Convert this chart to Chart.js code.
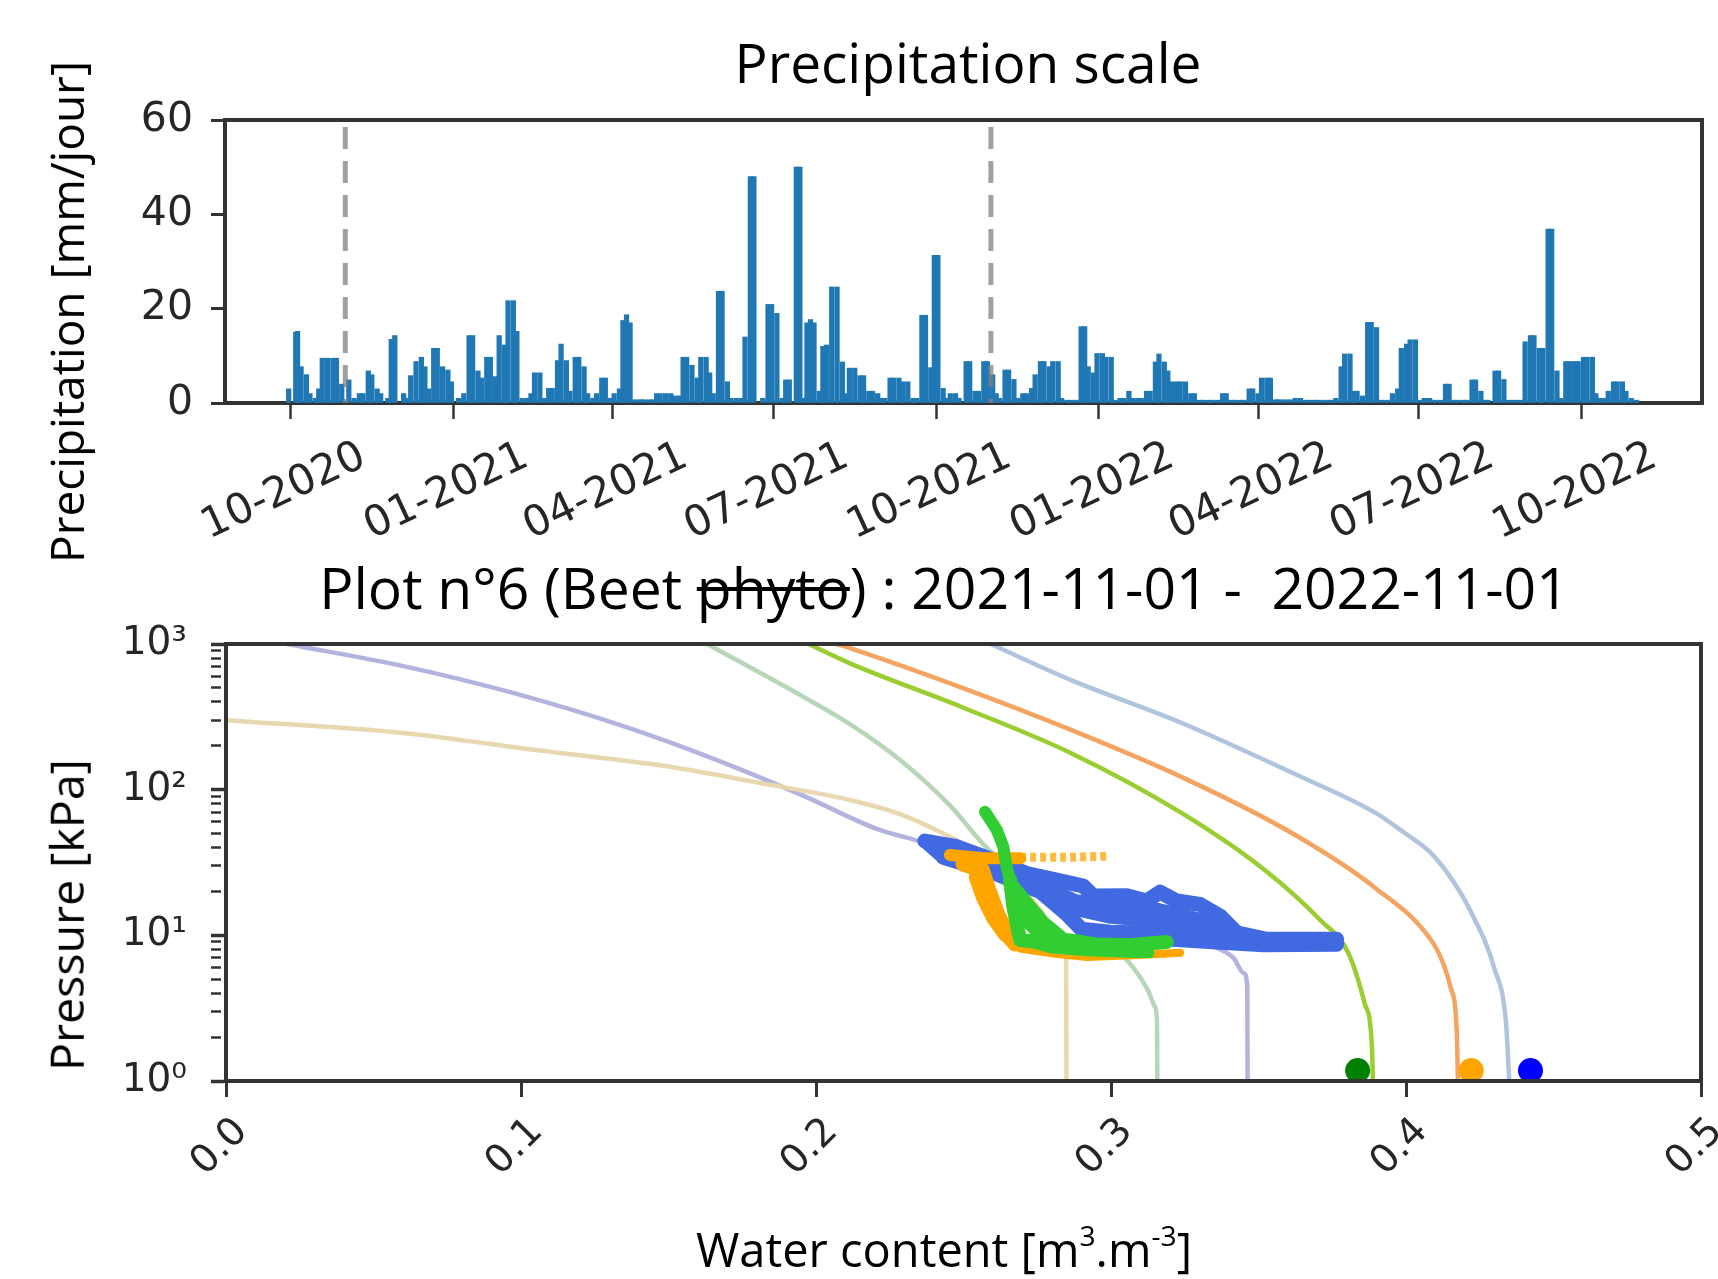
<!DOCTYPE html>
<html>
<head>
<meta charset="utf-8">
<script src="https://cdn.jsdelivr.net/npm/chart.js@4.4.1/dist/chart.umd.min.js"></script>
<style>
  body { margin: 0; background: #fff; }
  #page { position: relative; width: 1718px; height: 1279px; overflow: hidden; background: #fff; }
  canvas { position: absolute; left: 0; }
  .lbl { position: absolute; font-family: 'Open Sans', sans-serif; color: #000; white-space: nowrap; line-height: 1; }
  .ctr { transform: translateX(-50%); }
  .rot { transform: translate(-50%, -50%) rotate(-90deg); }
  .sup { font-size: 0.6em; position: relative; top: -0.75em; }
  s { text-decoration-thickness: 4px; }
</style>
</head>
<body>
<div id="page">
  <canvas id="rain" width="1718" height="590" style="top:0"></canvas>
  <canvas id="retention" width="1718" height="689" style="top:590px"></canvas>
  <div class="lbl ctr" style="left:968px; top:34px; font-size:55px">Precipitation scale</div>
  <div class="lbl rot" style="left:66px; top:312px; font-size:46px">Precipitation [mm/jour]</div>
  <div class="lbl ctr" style="left:944px; top:559px; font-size:57px">Plot n°6 (Beet <s>phyto</s>) : 2021-11-01 -&nbsp; 2022-11-01</div>
  <div class="lbl rot" style="left:66px; top:915px; font-size:46.5px">Pressure [kPa]</div>
  <div class="lbl ctr" style="left:944px; top:1226px; font-size:47px">Water content [m<span class="sup">3</span>.m<span class="sup">-3</span>]</div>
</div>
<script>
// ---- precipitation panel ----
// days are counted from 2020-10-01
const DAY0 = Date.UTC(2020, 9, 1);
const dayOf = s => (Date.parse(s) - DAY0) / 864e5;

const axisStart = '2020-08-25';
const axisEnd = '2022-12-08';
const monthTicks = ['2020-10-01', '2021-01-01', '2021-04-01', '2021-07-01', '2021-10-01',
  '2022-01-01', '2022-04-01', '2022-07-01', '2022-10-01'];
const monthLabels = ['10-2020', '01-2021', '04-2021', '07-2021', '10-2021',
  '01-2022', '04-2022', '07-2022', '10-2022'];
const periodMarks = ['2020-11-01', '2021-11-01'];

const rainDay = [
  -1, 3, 4, 6, 9, 11, 14, 16, 18, 21, 24, 26, 29, 33, 36, 39, 41, 44, 46, 49,
  51, 55, 57, 59, 64, 66, 68, 71, 74, 76, 78, 81, 83, 86, 89, 91, 95, 98, 101, 103,
  106, 108, 111, 113, 116, 118, 121, 123, 126, 128, 131, 134, 136, 138, 141, 143, 146, 148, 151, 153,
  156, 158, 161, 163, 166, 168, 171, 173, 176, 178, 181, 183, 186, 188, 190, 192, 195, 198, 200, 203,
  205, 207, 209, 212, 215, 217, 220, 222, 224, 227, 230, 232, 235, 237, 239, 242, 244, 247, 249, 252,
  255, 257, 260, 262, 267, 270, 272, 275, 278, 280, 282, 286, 288, 290, 292, 294, 296, 299, 301, 303,
  306, 309, 312, 314, 316, 319, 322, 324, 327, 329, 332, 334, 336, 339, 341, 344, 346, 349, 352, 354,
  357, 359, 362, 364, 366, 369, 371, 373, 376, 378, 382, 384, 387, 389, 392, 394, 397, 399, 401, 404,
  406, 409, 411, 414, 416, 419, 421, 424, 426, 429, 431, 434, 436, 439, 441, 444, 447, 449, 451, 454,
  456, 459, 461, 464, 466, 469, 471, 474, 476, 479, 481, 484, 486, 489, 491, 494, 496, 498, 501, 503,
  506, 509, 511, 514, 516, 519, 521, 524, 527, 529, 532, 534, 537, 539, 542, 544, 547, 549, 552, 554,
  557, 559, 562, 565, 568, 571, 574, 576, 579, 581, 584, 587, 589, 591, 594, 596, 599, 601, 603, 606,
  609, 611, 614, 617, 620, 623, 626, 628, 631, 633, 636, 639, 641, 644, 647, 650, 653, 655, 658, 660,
  663, 665, 668, 670, 673, 675, 677, 681, 683, 686, 688, 691, 693, 696, 698, 701, 703, 706, 708, 711,
  713, 716, 718, 721, 723, 726, 728, 731, 733, 736, 738, 740, 743, 745, 748, 750, 753, 755, 758, 761
];
const rainMm = [
  3, 15, 15.2, 7.7, 6, 2, 1, 3, 9.5, 9.5, 9.5, 9.5, 4, 4.9, 1, 2, 2, 6.8, 6, 3,
  2, 1, 13.5, 14.3, 2, 1, 5.8, 8.8, 9.7, 7.7, 3, 11.6, 11.6, 7.7, 7, 4.5, 1, 2, 14.3, 14.3,
  6.8, 5.3, 9.7, 9.7, 5.6, 14.3, 12.3, 21.7, 21.7, 15.2, 1, 1, 2, 6.4, 6.4, 1, 3.1, 3.1, 9, 12.5,
  9, 2.5, 9.7, 9.7, 7.7, 2, 1, 2, 5.3, 5.3, 1, 2, 3, 17.5, 18.7, 17, 0.7, 0.7, 0.7, 0.7,
  0.7, 2, 2, 2, 2, 1.5, 1.5, 9.7, 9.7, 8, 5.3, 9.7, 9.7, 6.4, 2, 23.7, 23.7, 4.5, 1, 1,
  1, 14, 48, 48, 1, 20.9, 20.9, 19, 1, 4.9, 4.9, 50, 50, 1, 17, 17.7, 17, 2.5, 12, 12.3,
  24.6, 24.6, 8.7, 2, 7.4, 7.4, 5.8, 5.8, 2.5, 2.5, 2, 1, 1, 5.3, 5.3, 5.3, 4.5, 4.5, 1, 1,
  18.6, 18.6, 7.5, 31.3, 31.3, 3.1, 1, 2, 2, 1, 8.8, 8.8, 2.5, 2.5, 8.8, 8.8, 6, 2, 1, 7,
  7, 5, 1, 2, 2, 3.1, 6, 8.8, 8.8, 7.7, 8.8, 8.8, 1, 0.6, 0.6, 0.6, 16.2, 16.2, 7.7, 6.4,
  10.5, 10.5, 9.7, 9.7, 0.6, 1, 1, 2.5, 1, 1, 1, 2.5, 2.5, 8.7, 10.4, 8.7, 6.8, 4.5, 4.5, 4.5,
  4.5, 2, 2, 0.6, 0.6, 0.6, 0.6, 0.6, 2, 2, 0.6, 0.6, 0.6, 0.6, 3, 3, 2, 5.3, 5.3, 5.3,
  0.7, 0.7, 0.7, 0.7, 1, 1, 0.6, 0.6, 0.6, 0.6, 0.6, 0.6, 0.6, 1, 7.7, 10.4, 10.4, 2.5, 2.5, 1.5,
  17.1, 17.1, 16, 0.6, 0.6, 2, 3, 11.6, 12.5, 13.4, 13.4, 0.6, 1, 1, 0.6, 0.6, 4, 4, 0.6, 0.6,
  0.6, 0.6, 4.9, 4.9, 2.5, 0.6, 0.6, 6.8, 6.8, 5, 0.6, 0.6, 0.6, 0.6, 13, 14.3, 14.3, 11.6, 11.6, 36.9,
  36.9, 6.8, 1, 8.8, 8.8, 8.8, 8.8, 9.7, 9.7, 9.7, 2, 1, 1, 2.5, 4.5, 4.5, 4.5, 2.5, 1, 0.6
];

// ---- retention panel: [water content m3/m3, pressure kPa] ----
const curveTan = [[0, 300], [0.06, 245], [0.105, 187], [0.151, 143], [0.181, 111], [0.2114, 85],
  [0.2285, 68], [0.2432, 50], [0.2511, 41], [0.265, 26], [0.276, 15], [0.2825, 9.5], [0.2848, 7], [0.2849, 1]];
const curveLavender = [[0.0207, 1000], [0.0601, 705], [0.0979, 458], [0.1357, 269], [0.166, 161],
  [0.1962, 90], [0.2204, 54], [0.2369, 43], [0.25, 34], [0.27, 23], [0.29, 15.5], [0.31, 11.5],
  [0.325, 9.5], [0.3358, 8.2], [0.3415, 7.0], [0.345, 5.5], [0.3462, 4.5], [0.3463, 1]];
const curvePaleGreen = [[0.1631, 1000], [0.1959, 432], [0.2115, 282], [0.2285, 160], [0.2454, 78],
  [0.2573, 41], [0.2725, 22.5], [0.2895, 11.8], [0.3053, 6.8], [0.3125, 4.2], [0.315, 3.2],
  [0.3156, 2.5], [0.3157, 1]];
const curveYellowGreen = [[0.1975, 1000], [0.2115, 736], [0.2491, 371], [0.2865, 178],
  [0.324, 69], [0.3522, 28], [0.371, 12.7], [0.3804, 7.6], [0.386, 3.4], [0.3884, 1.8], [0.3888, 1]];
const curveOrange = [[0.207, 1000], [0.2115, 937], [0.2489, 506], [0.2865, 257], [0.324, 122],
  [0.3616, 50], [0.3898, 21], [0.4085, 9.3], [0.4125, 6.5], [0.4151, 4.4], [0.4172, 2.2], [0.4176, 1]];
const curveSteel = [[0.2592, 1000], [0.2865, 565], [0.324, 287], [0.3616, 130], [0.3898, 69],
  [0.3992, 51], [0.4085, 36.7], [0.4157, 24], [0.4217, 14.9], [0.4301, 5.8], [0.4339, 2.5], [0.435, 1]];

// measured (theta, pressure) tracks of the three sensors
const blueTrack0 = [[0.2369, 44.4], [0.242, 36], [0.25, 33], [0.26, 30]];
const blueTrack1 = [[0.2369, 44.4], [0.2477, 40.6], [0.2601, 32.9], [0.2714, 26.6], [0.2804, 24.2],
  [0.2906, 21.8], [0.294, 18.6], [0.3053, 18.7], [0.3121, 17.2], [0.3166, 19.8], [0.3223, 17.2],
  [0.3302, 16.3], [0.3369, 13.6], [0.3426, 10.4], [0.3528, 9.4], [0.3765, 9.4]];
const blueTrack2 = [[0.2432, 34.3], [0.26, 27], [0.276, 20], [0.285, 14], [0.29, 11], [0.2997, 10.5],
  [0.3189, 10.3], [0.3211, 9.4], [0.3358, 9.0], [0.3517, 8.6], [0.3765, 8.7]];
const blueTrack3 = [[0.2714, 25], [0.28, 19], [0.29, 15], [0.30, 13.5], [0.31, 13], [0.32, 12.5],
  [0.33, 11.5], [0.342, 10]];
const blueTrack4 = [[0.265, 30], [0.276, 22], [0.288, 17], [0.30, 16], [0.315, 15], [0.328, 13], [0.339, 11.5]];
const blueTrack5 = [[0.311, 11.8], [0.325, 11], [0.34, 10], [0.355, 9.2]];
const orangeTop = [[0.2454, 35.6], [0.2567, 33.8], [0.2692, 33.8]];
const orangeSparse = [[0.2692, 34.3], [0.285, 34.3], [0.2997, 35]];
const orangeBody1 = [[0.25, 31], [0.2562, 28.1], [0.2584, 20.5], [0.2613, 14.2], [0.2646, 10.3], [0.2675, 8.8]];
const orangeBody2 = [[0.254, 25], [0.2565, 18], [0.26, 13], [0.264, 10]];
const orangeBottom = [[0.2692, 8.1], [0.2804, 7.5], [0.2918, 7.1], [0.3076, 7.3], [0.3189, 7.5], [0.3234, 7.6]];
const greenSpike = [[0.2573, 70.5], [0.2613, 52.8], [0.2635, 40.6], [0.2646, 29.6], [0.2658, 24]];
const greenBody1 = [[0.2658, 24], [0.2669, 15.7], [0.2692, 9.3], [0.285, 8.6], [0.3008, 8.4], [0.3189, 9.0]];
const greenBody2 = [[0.2658, 22.7], [0.2714, 16.6], [0.2771, 12.1], [0.2827, 9.8]];
const greenBody3 = [[0.2692, 9.3], [0.2793, 8.1], [0.2918, 7.7], [0.3076, 7.5], [0.3132, 7.5]];
const greenBody4 = [[0.268, 18], [0.274, 12], [0.279, 9.5], [0.29, 9]];
const greenBody5 = [[0.2665, 20], [0.2705, 13], [0.276, 10], [0.295, 8.8], [0.31, 8.7]];

// saturated water content markers
const satPoints = [[0.3836, 1.18], [0.4221, 1.18], [0.4422, 1.18]];
const satColors = ['#008000', '#ffa500', '#0000ff'];

const AXIS = '#333333';
const SUP = ['\u2070', '\u00b9', '\u00b2', '\u00b3'];

Chart.defaults.font.family = "'DejaVu Sans', sans-serif";
Chart.defaults.color = '#262626';

const framePlugin = {
  id: 'frame',
  afterDatasetsDraw(chart) {
    const { ctx, chartArea: a } = chart;
    ctx.save();
    ctx.strokeStyle = AXIS;
    ctx.lineWidth = 4;
    ctx.beginPath();
    ctx.moveTo(a.left - 2, a.top);
    ctx.lineTo(a.right, a.top);
    ctx.lineTo(a.right, a.bottom + 2);
    ctx.stroke();
    ctx.restore();
  }
};

const toXY = pts => pts.map(p => ({ x: p[0], y: p[1] }));
const tickDays = monthTicks.map(dayOf);

new Chart(document.getElementById('rain'), {
  type: 'bar',
  data: {
    datasets: [
      ...periodMarks.map(d => ({
        type: 'line',
        data: [{ x: dayOf(d), y: 58.5 }, { x: dayOf(d), y: 0 }],
        borderColor: 'rgba(128,128,128,0.75)',
        borderWidth: 5,
        borderDash: [22, 12],
        pointRadius: 0,
        order: 0
      })),
      {
        type: 'bar',
        data: rainDay.map((d, i) => ({ x: d, y: rainMm[i] })),
        backgroundColor: '#1f77b4',
        barThickness: 4.6,
        order: 1
      }
    ]
  },
  options: {
    responsive: false,
    animation: false,
    devicePixelRatio: 1,
    layout: { padding: { left: 0, top: 120, right: 16, bottom: 0 } },
    plugins: { legend: { display: false }, tooltip: { enabled: false } },
    scales: {
      x: {
        type: 'linear',
        min: dayOf(axisStart),
        max: dayOf(axisEnd),
        offset: false,
        afterBuildTicks: s => { s.ticks = tickDays.map(v => ({ value: v })); },
        afterFit: s => { s.height = 187; s.paddingLeft = 0; s.paddingRight = 0; },
        ticks: {
          autoSkip: false, minRotation: 25, maxRotation: 25,
          padding: 13, labelOffset: 73, font: { size: 42 },
          callback: (v, i) => monthLabels[i]
        },
        grid: { offset: false, drawOnChartArea: false, tickLength: 16, tickWidth: 2.5, tickColor: AXIS },
        border: { color: AXIS, width: 4 }
      },
      y: {
        min: 0,
        max: 60,
        afterFit: s => { s.width = 225; },
        ticks: { stepSize: 20, padding: 18, font: { size: 41 } },
        grid: { drawOnChartArea: false, tickLength: 14, tickWidth: 3, tickColor: AXIS },
        border: { color: AXIS, width: 4 }
      }
    }
  },
  plugins: [framePlugin]
});

// ---- retention chart ----
const logTicks = [];
for (const dec of [1, 10, 100]) for (let m = 1; m < 10; m++) logTicks.push(m * dec);
logTicks.push(1000);
const isDecade = v => Math.abs(Math.log10(v) - Math.round(Math.log10(v))) < 1e-9;

const curves = [
  [curveTan, '#e8d8b0'], [curveLavender, '#b3b3e0'], [curvePaleGreen, '#b7d6b7'],
  [curveYellowGreen, '#9acd32'], [curveOrange, '#f4a460'], [curveSteel, '#b0c4de']
];
const BLUE = '#4169e1', ORANGE = '#ffa500', GREEN = '#32cd32';
const tracks = [
  [blueTrack0, BLUE, 14, 3], [blueTrack1, BLUE, 15, 3], [blueTrack2, BLUE, 15, 3],
  [blueTrack3, BLUE, 15, 3], [blueTrack4, BLUE, 15, 3], [blueTrack5, BLUE, 12, 3],
  [orangeTop, ORANGE, 12, 2], [orangeBody1, ORANGE, 16, 2], [orangeBody2, ORANGE, 13, 2],
  [orangeBottom, ORANGE, 8, 2],
  [greenSpike, GREEN, 12, 1], [greenBody1, GREEN, 14, 1], [greenBody2, GREEN, 14, 1],
  [greenBody3, GREEN, 9, 1], [greenBody4, GREEN, 14, 1], [greenBody5, GREEN, 12, 1]
];

const retentionSets = [
  ...curves.map(([pts, color]) => ({
    data: toXY(pts), showLine: true, borderColor: color, borderWidth: 4.5,
    pointRadius: 0, cubicInterpolationMode: 'monotone', order: 5
  })),
  {
    data: toXY(orangeSparse), showLine: true, borderColor: 'rgba(255,165,0,0.75)', borderWidth: 9,
    borderDash: [6, 4], pointRadius: 0, order: 2
  },
  ...tracks.map(([pts, color, w, ord]) => ({
    data: toXY(pts), showLine: true, borderColor: color, borderWidth: w,
    borderCapStyle: 'round', borderJoinStyle: 'round', pointRadius: 0, tension: 0, order: ord
  })),
  ...satPoints.map((p, i) => ({
    data: toXY([p]), showLine: false, pointRadius: 12.5, borderWidth: 0,
    backgroundColor: satColors[i], order: 0
  }))
];

new Chart(document.getElementById('retention'), {
  type: 'scatter',
  data: { datasets: retentionSets },
  options: {
    responsive: false,
    animation: false,
    devicePixelRatio: 1,
    layout: { padding: { left: 0, top: 54, right: 17, bottom: 0 } },
    plugins: { legend: { display: false }, tooltip: { enabled: false } },
    scales: {
      x: {
        type: 'linear',
        min: 0,
        max: 0.5,
        afterFit: s => { s.height = 198; s.paddingLeft = 0; s.paddingRight = 0; },
        ticks: {
          stepSize: 0.1, autoSkip: false, minRotation: 45, maxRotation: 45,
          padding: 12, labelOffset: 16, font: { size: 39 },
          callback: v => v.toFixed(1)
        },
        grid: { drawOnChartArea: false, tickLength: 16, tickWidth: 3, tickColor: AXIS, z: 1 },
        border: { color: AXIS, width: 4, z: 1 }
      },
      y: {
        type: 'logarithmic',
        min: 1,
        max: 1000,
        afterBuildTicks: s => { s.ticks = logTicks.map(v => ({ value: v })); },
        afterFit: s => { s.width = 226; },
        ticks: {
          autoSkip: false, padding: 24, font: { size: 39 },
          callback: v => isDecade(v) ? '10' + SUP[Math.round(Math.log10(v))] : ''
        },
        grid: {
          drawOnChartArea: false, tickLength: 15, tickColor: AXIS, z: 1,
          tickWidth: c => isDecade(c.tick.value) ? 3.5 : 2.5,
          tickBorderDash: c => isDecade(c.tick.value) ? [] : [10, 60]
        },
        border: { color: AXIS, width: 4, z: 1 }
      }
    }
  },
  plugins: [framePlugin]
});
</script>
</body>
</html>
